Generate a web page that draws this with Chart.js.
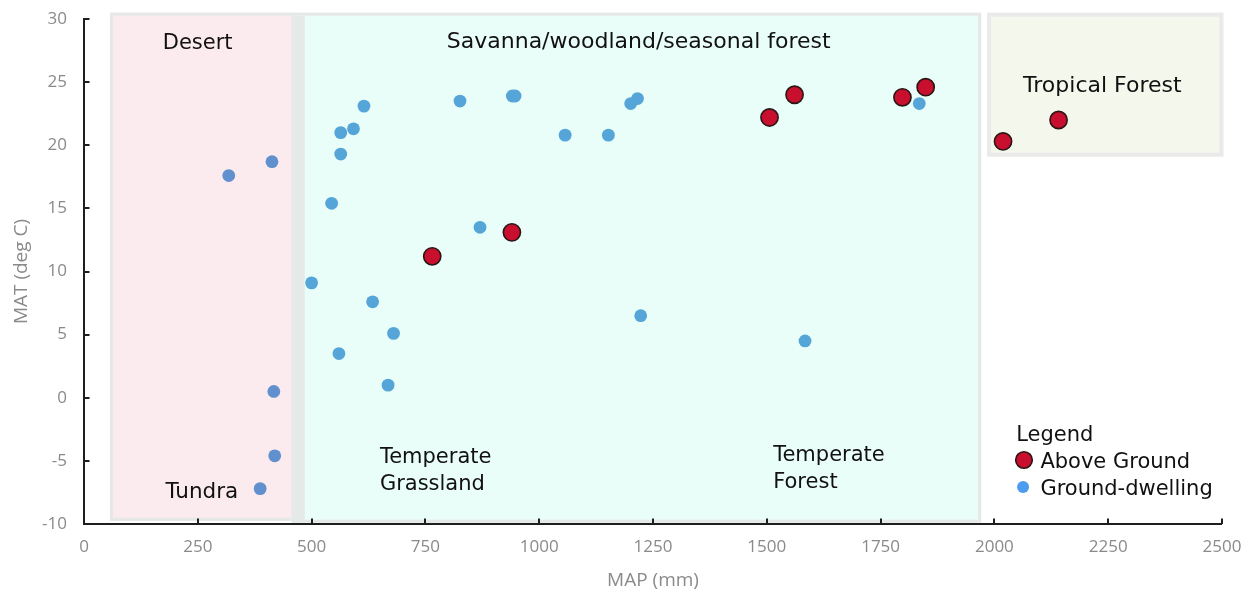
<!DOCTYPE html>
<html>
<head>
<meta charset="utf-8">
<script src="https://cdn.jsdelivr.net/npm/chart.js@4.4.1/dist/chart.umd.min.js"></script>
<style>
html,body{margin:0;padding:0;background:#ffffff;}
#wrap{width:1246px;height:595px;position:relative;}
</style>
</head>
<body>
<div id="wrap"><canvas id="c" width="1246" height="595"></canvas></div>
<script>
// ---- data (MAP in mm, MAT in deg C) ----
const seriesNames = ['Above Ground', 'Ground-dwelling'];
const aboveGroundMAP = [765, 940, 1506, 1561, 1798, 1849, 2019, 2141];
const aboveGroundMAT = [11.2, 13.1, 22.2, 24.0, 23.8, 24.6, 20.3, 22.0];
const groundMAP = [318, 413, 417, 419, 387, 500, 615, 564, 592, 564, 544, 826, 941, 947, 1057, 1152, 1201, 1216, 870, 634, 680, 560, 668, 1223, 1584, 1835];
const groundMAT = [17.6, 18.7, 0.5, -4.6, -7.2, 9.1, 23.1, 21.0, 21.3, 19.3, 15.4, 23.5, 23.9, 23.9, 20.8, 20.8, 23.3, 23.7, 13.5, 7.6, 5.1, 3.5, 1.0, 6.5, 4.5, 23.3];
const xTickValues = [0, 250, 500, 750, 1000, 1250, 1500, 1750, 2000, 2250, 2500];
const yTickValues = [-10, -5, 0, 5, 10, 15, 20, 25, 30];
const xTitle = 'MAP (mm)';
const yTitle = 'MAT (deg C)';

// biome regions (in MAP / MAT units)
const regionMAPFrom = [57, 456, 1984];
const regionMAPTo   = [462, 1971, 2503];
const regionMATFrom = [-9.75, -9.9, 19.1];
const regionMATTo   = [30.5, 30.5, 30.5];
const regionFills   = ['#FBEAEE', '#EAFEF9', '#F4F8EC'];
const dividerMAP = [462, 485];

// biome labels (anchor in MAP / MAT units, left edge / baseline)
const biomeLabels   = ['Desert', 'Savanna/woodland/seasonal forest', 'Tropical Forest', 'Tundra', 'Temperate', 'Grassland', 'Temperate', 'Forest'];
const biomeLabelMAP = [173, 797, 2063, 179, 650, 650, 1514, 1514];
const biomeLabelMAT = [27.62, 27.73, 24.24, -7.94, -5.2, -7.3, -5.0, -7.14];
const biomeLabelSize = [21, 22, 22, 21.5, 21, 21, 21, 21];

const legendTitle = 'Legend';

const red = '#C8102E';
const blueLegend = '#4C9BEF';

function pts(xs, ys){ return xs.map((v,i)=>({x:v, y:ys[i]})); }

const overlay = {
  id: 'overlay',
  beforeDatasetsDraw(chart){
    const {ctx, scales:{x, y}} = chart;
    ctx.save();
    for (let i = 0; i < regionFills.length; i++){
      const x0 = x.getPixelForValue(regionMAPFrom[i]);
      const x1 = x.getPixelForValue(regionMAPTo[i]);
      const y0 = y.getPixelForValue(regionMATTo[i]);
      const y1 = y.getPixelForValue(regionMATFrom[i]);
      ctx.fillStyle = regionFills[i];
      ctx.fillRect(x0, y0, x1 - x0, y1 - y0);
      ctx.strokeStyle = i === 2 ? '#EAEAEA' : '#E6E8E8';
      const lw = i === 2 ? 4 : 3;
      ctx.lineWidth = lw;
      ctx.strokeRect(x0 + lw/2, y0 + lw/2, x1 - x0 - lw, y1 - y0 - lw);
    }
    const d0 = x.getPixelForValue(dividerMAP[0]);
    const d1 = x.getPixelForValue(dividerMAP[1]);
    const dy0 = y.getPixelForValue(regionMATTo[0]);
    const dy1 = y.getPixelForValue(regionMATFrom[0]);
    ctx.fillStyle = '#E5EAE9';
    ctx.fillRect(d0, dy0 + 3, d1 - d0, dy1 - dy0 - 3);
    ctx.restore();
  },
  afterDatasetsDraw(chart){
    const {ctx, scales:{x, y}} = chart;
    ctx.save();
    // axes
    ctx.strokeStyle = '#1E1E1E';
    ctx.lineWidth = 2;
    const left = x.getPixelForValue(xTickValues[0]);
    const right = x.getPixelForValue(xTickValues[xTickValues.length-1]);
    const bottom = y.getPixelForValue(yTickValues[0]);
    const top = y.getPixelForValue(yTickValues[yTickValues.length-1]);
    ctx.beginPath();
    ctx.moveTo(left, top - 1); ctx.lineTo(left, bottom);
    ctx.lineTo(right, bottom);
    yTickValues.forEach(v => { const p = Math.round(y.getPixelForValue(v)); ctx.moveTo(left, p); ctx.lineTo(left + 5.5, p); });
    xTickValues.forEach(v => { const p = Math.round(x.getPixelForValue(v)); ctx.moveTo(p, bottom); ctx.lineTo(p, bottom - 5.5); });
    ctx.stroke();

    // biome labels
    ctx.fillStyle = '#111111';
    ctx.textBaseline = 'alphabetic';
    ctx.textAlign = 'left';
    biomeLabels.forEach((t, i) => {
      ctx.font = biomeLabelSize[i] + 'px "DejaVu Sans", Verdana, sans-serif';
      ctx.fillText(t, x.getPixelForValue(biomeLabelMAP[i]), y.getPixelForValue(biomeLabelMAT[i]));
    });

    // legend
    ctx.font = '21px "DejaVu Sans", Verdana, sans-serif';
    ctx.fillText(legendTitle, x.getPixelForValue(2048), y.getPixelForValue(-3.42));
    ctx.fillText(seriesNames[0], x.getPixelForValue(2101), y.getPixelForValue(-5.56));
    ctx.fillText(seriesNames[1], x.getPixelForValue(2101), y.getPixelForValue(-7.7));
    ctx.beginPath();
    ctx.arc(x.getPixelForValue(2065), y.getPixelForValue(-4.93), 8.3, 0, Math.PI*2);
    ctx.fillStyle = red; ctx.fill();
    ctx.lineWidth = 1.6; ctx.strokeStyle = '#2A1515'; ctx.stroke();
    ctx.beginPath();
    ctx.arc(x.getPixelForValue(2063), y.getPixelForValue(-7.07), 6, 0, Math.PI*2);
    ctx.fillStyle = blueLegend; ctx.fill();
    ctx.restore();
  }
};

new Chart(document.getElementById('c'), {
  type: 'scatter',
  data: {
    datasets: [
      {
        label: seriesNames[0],
        data: pts(aboveGroundMAP, aboveGroundMAT),
        backgroundColor: red,
        borderColor: '#2A1515',
        borderWidth: 1.6,
        pointRadius: 8.6,
        pointHoverRadius: 8.6,
        order: 0
      },
      {
        label: seriesNames[1],
        data: pts(groundMAP, groundMAT),
        backgroundColor: ctx => (ctx.raw && ctx.raw.x < 470) ? '#6090CE' : '#55A5D8',
        borderWidth: 0,
        pointRadius: 6.4,
        pointHoverRadius: 6.4,
        order: 1
      }
    ]
  },
  options: {
    responsive: false,
    animation: false,
    devicePixelRatio: 1,
    layout: { padding: { top: 19, right: 24, bottom: 0, left: 0 } },
    plugins: { legend: { display: false }, tooltip: { enabled: false } },
    scales: {
      x: {
        type: 'linear',
        min: 0, max: 2500,
        afterBuildTicks: s => { s.ticks = xTickValues.map(v => ({value: v})); },
        afterFit: s => { s.height = 71; s.paddingLeft = 0; s.paddingRight = 0; },
        grid: { display: false, drawTicks: false },
        border: { display: false },
        ticks: { color: '#8A8A8A', font: { family: '"Open Sans", sans-serif', size: 17 }, padding: 13, maxRotation: 0, callback: v => String(v) },
        title: { display: true, text: xTitle, color: '#8A8A8A', font: { family: '"Open Sans", sans-serif', size: 19 }, padding: { top: 0, bottom: 3 } }
      },
      y: {
        type: 'linear',
        min: -10, max: 30,
        afterBuildTicks: s => { s.ticks = yTickValues.map(v => ({value: v})); },
        afterFit: s => { s.width = 84; s.paddingTop = 0; s.paddingBottom = 0; },
        grid: { display: false, drawTicks: false },
        border: { display: false },
        ticks: { color: '#8A8A8A', font: { family: '"Open Sans", sans-serif', size: 17 }, padding: 17, callback: v => String(v) },
        title: { display: true, text: yTitle, color: '#8A8A8A', font: { family: '"Open Sans", sans-serif', size: 19 }, padding: { top: 10, bottom: 0 } }
      }
    }
  },
  plugins: [overlay]
});
</script>
</body>
</html>
